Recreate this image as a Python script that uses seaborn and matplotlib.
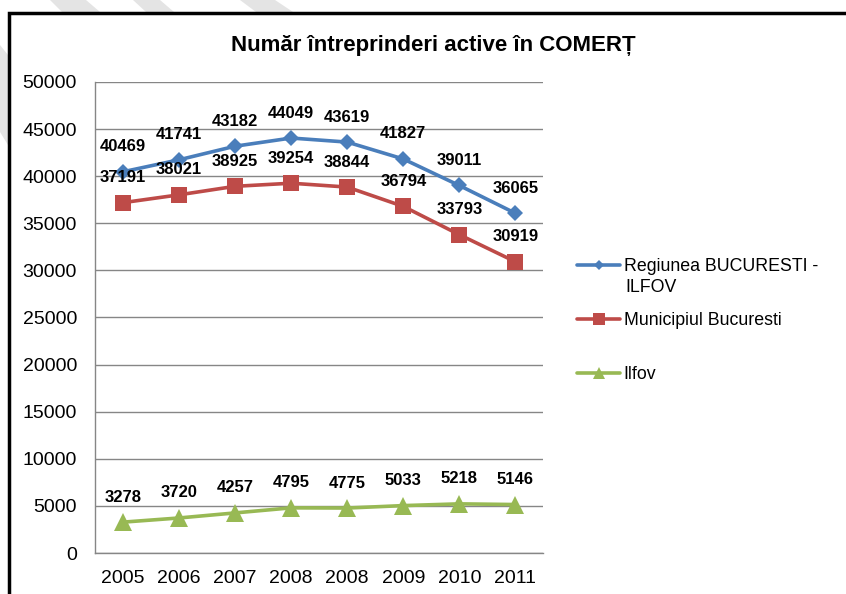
import pandas as pd
import matplotlib.pyplot as plt
import seaborn as sns
from matplotlib.patches import Rectangle, Polygon

years = ['2005', '2006', '2007', '2008', '2008', '2009', '2010', '2011']
regiunea = [40469, 41741, 43182, 44049, 43619, 41827, 39011, 36065]
municipiul = [37191, 38021, 38925, 39254, 38844, 36794, 33793, 30919]
ilfov = [3278, 3720, 4257, 4795, 4775, 5033, 5218, 5146]

names = ['Regiunea BUCURESTI -', 'Municipiul Bucuresti', 'Ilfov']
colors = ['#4A7EBB', '#BE4B48', '#98B954']

sns.set_style('white')
plt.rcParams['font.family'] = ['Liberation Sans', 'DejaVu Sans']
plt.rcParams['text.color'] = 'black'

df = pd.DataFrame({
    'pos': list(range(len(years))) * 3,
    'value': regiunea + municipiul + ilfov,
    'series': [names[0]] * 8 + [names[1]] * 8 + [names[2]] * 8,
})

W, H = 846, 594
fig = plt.figure(figsize=(8.46, 5.94), dpi=100)

# faint page watermark outside the chart frame
def px(x, y):
    return (x / W, 1 - y / H)

for pts in [[(50, 0), (86, 0), (100, 12), (62, 12)],
            [(133, 0), (160, 0), (174, 12), (146, 12)],
            [(240, 0), (275, 0), (293, 12), (256, 12)],
            [(0, 45), (8, 55), (8, 145), (0, 132)]]:
    fig.patches.append(Polygon([px(*p) for p in pts], closed=True, transform=fig.transFigure,
                               facecolor='#e4e4e4', edgecolor='none', zorder=-1))

ax = fig.add_axes([0.1123, 0.069, 0.53, 0.793])

sns.lineplot(data=df, x='pos', y='value', hue='series', style='series',
             palette=colors, markers=['D', 's', '^'], dashes=False,
             linewidth=2.6, markersize=11, markeredgewidth=0, ax=ax)

# marker sizes differ a bit in the original
for line, ms in zip(ax.lines, [8.5, 12, 12.5]):
    line.set_markersize(ms)

for vals in [regiunea, municipiul, ilfov]:
    for i, v in enumerate(vals):
        ax.annotate(str(v), (i, v), xytext=(0, 18), textcoords='offset points',
                    ha='center', va='center', fontsize=12, fontweight='bold', color='black')

ax.set_xlim(-0.5, 7.5)
ax.set_ylim(0, 50000)
ax.set_yticks(range(0, 50001, 5000))
ax.set_xticks(range(len(years)))
ax.set_xticklabels(years)
ax.set_xticks([i - 0.5 for i in range(len(years) + 1)], minor=True)
ax.tick_params(axis='x', which='major', length=0, labelsize=14, pad=12, labelcolor='black')
ax.tick_params(axis='x', which='minor', length=5, color='#868686', width=1, direction='out')
ax.tick_params(axis='y', labelsize=14, length=5, color='#868686', pad=8, labelcolor='black')
ax.yaxis.grid(True, color='#868686', linewidth=1)
ax.set_axisbelow(True)
for s in ['top', 'right']:
    ax.spines[s].set_visible(False)
for s in ['left', 'bottom']:
    ax.spines[s].set_color('#868686')
    ax.spines[s].set_linewidth(1)
ax.set_xlabel('')
ax.set_ylabel('')

fig.text(0.512, 0.924, 'Număr întreprinderi active în COMERȚ', ha='center', va='center',
         fontsize=16, fontweight='bold', color='black')

leg = ax.legend(loc='upper left', bbox_to_anchor=(0.672, 0.581), bbox_transform=fig.transFigure,
                frameon=False, fontsize=12.8, handlelength=2.4, handletextpad=0.2,
                labelspacing=2.1, borderpad=0, labelcolor='black')
for h, ms in zip(leg.legend_handles, [5, 8, 8]):
    h.set_markersize(ms)
    h.set_linewidth(2.6)
fig.text(625 / W, 1 - 288 / H, 'ILFOV', ha='left', va='center', fontsize=12.8, color='black')

fig.patches.append(Rectangle((9 / W, -0.05), 1.0, 1 - 13 / H + 0.05, transform=fig.transFigure,
                             fill=False, edgecolor='black', linewidth=2.5,
                             clip_on=False, zorder=1))

fig.savefig('out.png', dpi=100)
